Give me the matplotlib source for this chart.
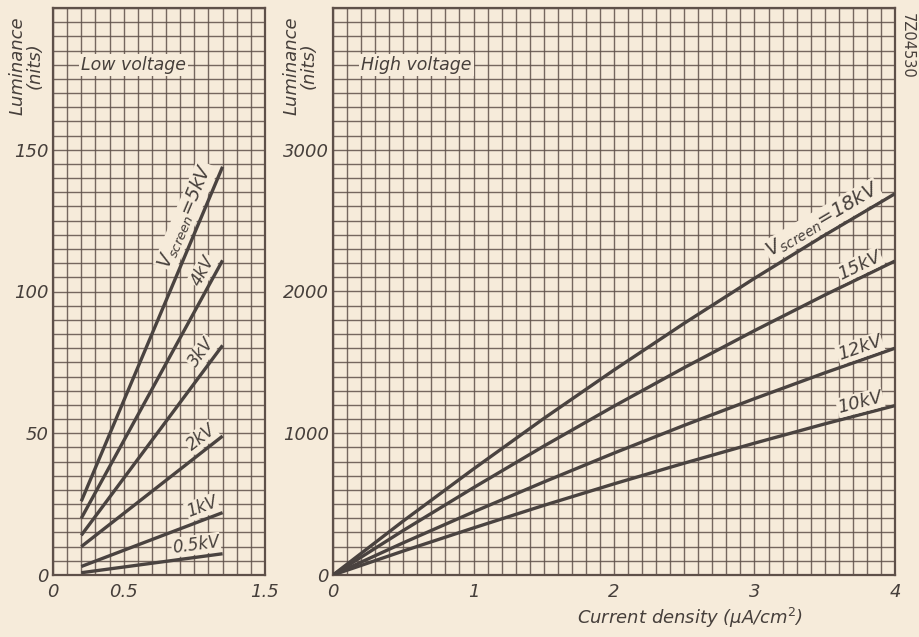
import numpy as np
import matplotlib
matplotlib.use("Agg")
import matplotlib.pyplot as plt
from matplotlib.ticker import MultipleLocator
import matplotlib.transforms as mtrans

# ---------------- data ----------------
# Low voltage panel (current density in uA/cm2, luminance in nits)
low_x = [0.2, 1.2]
low_5kv = [26, 144]
low_4kv = [20, 111]
low_3kv = [14, 81]
low_2kv = [10, 49]
low_1kv = [3, 22]
low_05kv = [0.8, 7.5]
low_series = [low_5kv, low_4kv, low_3kv, low_2kv, low_1kv, low_05kv]
low_labels = ["V$_{\\mathregular{screen}}$=5kV", "4kV", "3kV", "2kV", "1kV", "0.5kV"]

# High voltage panel
high_x = [0, 0.5, 1.0, 1.5, 2.0, 2.5, 3.0, 3.5, 4.0]
high_18kv = [0, 381, 748, 1104, 1446, 1776, 2093, 2398, 2690]
high_15kv = [0, 314, 616, 909, 1191, 1463, 1724, 1975, 2215]
high_12kv = [0, 227, 445, 656, 860, 1056, 1244, 1426, 1600]
high_10kv = [0, 169, 332, 491, 643, 789, 930, 1066, 1195]
high_series = [high_18kv, high_15kv, high_12kv, high_10kv]
high_labels = ["V$_{\\mathregular{screen}}$=18kV", "15kV", "12kV", "10kV"]

low_xticks = [0, 0.5, 1.5]
low_xticklabels = ["0", "0.5", "1.5"]
low_yticks = [0, 50, 100, 150]
high_xticks = [0, 1, 2, 3, 4]
high_yticks = [0, 1000, 2000, 3000]

# ---------------- style ----------------
bg = "#f6ebda"
grid_c = "#5e5049"
line_c = "#4a4340"
text_c = "#463f3b"
FONT = "DejaVu Sans"
plt.rcParams["font.family"] = [FONT]
plt.rcParams["mathtext.fontset"] = "dejavusans"
plt.rcParams["mathtext.default"] = "it"

fig = plt.figure(figsize=(9.2, 6.37), dpi=100, facecolor=bg)
W, H = 920, 637

def px_axes(x0, x1, ytop, ybot):
    return fig.add_axes([x0 / W, 1 - ybot / H, (x1 - x0) / W, (ybot - ytop) / H])

ax1 = px_axes(53, 265, 8, 575)
ax2 = px_axes(333, 895, 8, 575)

def style_axes(ax, xlim, ylim, xstep, ystep, xticks, xticklabels, yticks):
    ax.set_facecolor(bg)
    ax.set_xlim(*xlim)
    ax.set_ylim(*ylim)
    ax.xaxis.set_minor_locator(MultipleLocator(xstep))
    ax.yaxis.set_minor_locator(MultipleLocator(ystep))
    ax.set_xticks(xticks)
    ax.set_xticklabels(xticklabels)
    ax.set_yticks(yticks)
    ax.set_yticklabels([str(t) for t in yticks])
    ax.grid(which="both", color=grid_c, lw=1.0, alpha=0.85)
    ax.set_axisbelow(True)
    ax.tick_params(which="both", length=0, colors=text_c, labelsize=13)
    ax.tick_params(axis="x", pad=6)
    ax.tick_params(axis="y", pad=3)
    for lab in ax.get_xticklabels() + ax.get_yticklabels():
        lab.set_fontstyle("italic")
    for s in ax.spines.values():
        s.set_color(grid_c)
        s.set_linewidth(1.6)

style_axes(ax1, (0, 1.5), (0, 200), 0.1, 5, low_xticks, low_xticklabels, low_yticks)
style_axes(ax2, (0, 4), (0, 4000), 0.1, 100, high_xticks, [str(t) for t in high_xticks], high_yticks)

def label_on_line(ax, xs, ys, xpos, text, size, perp_pts=2.0):
    xs = np.asarray(xs, float); ys = np.asarray(ys, float)
    ypos = np.interp(xpos, xs, ys)
    i = min(max(np.searchsorted(xs, xpos) - 1, 0), len(xs) - 2)
    p0 = ax.transData.transform((xs[i], ys[i]))
    p1 = ax.transData.transform((xs[i + 1], ys[i + 1]))
    ang = np.degrees(np.arctan2(p1[1] - p0[1], p1[0] - p0[0]))
    nx = -np.sin(np.radians(ang)) * perp_pts
    ny = np.cos(np.radians(ang)) * perp_pts
    off = mtrans.offset_copy(ax.transData, fig=fig, x=nx, y=ny, units="points")
    ax.text(xpos, ypos, text, transform=off, rotation=ang, rotation_mode="anchor",
            ha="right", va="bottom", fontsize=size, style="italic", color=text_c,
            bbox=dict(facecolor=bg, edgecolor="none", pad=0.6), zorder=4)

for ys in low_series:
    ax1.plot(low_x, ys, color=line_c, lw=2.4, solid_capstyle="butt", zorder=3)
low_label_x = [1.19, 1.19, 1.19, 1.19, 1.19, 1.19]
low_label_size = [13.5, 12, 12, 12, 12, 12]
for ys, lab, lx, sz in zip(low_series, low_labels, low_label_x, low_label_size):
    label_on_line(ax1, low_x, ys, lx, lab, sz, perp_pts=2.5)

for ys in high_series:
    ax2.plot(high_x, ys, color=line_c, lw=2.4, solid_capstyle="butt", zorder=3)
high_label_x = [3.93, 3.93, 3.93, 3.93]
high_label_size = [14, 13, 13, 13]
for ys, lab, lx, sz in zip(high_series, high_labels, high_label_x, high_label_size):
    label_on_line(ax2, high_x, ys, lx, lab, sz, perp_pts=2.0)

# panel titles
ax1.text(0.2, 180, "Low voltage", fontsize=12.5, style="italic", color=text_c,
         va="center", ha="left", bbox=dict(facecolor=bg, edgecolor="none", pad=1.5), zorder=4)
ax2.text(0.2, 3600, "High voltage", fontsize=12.5, style="italic", color=text_c,
         va="center", ha="left", bbox=dict(facecolor=bg, edgecolor="none", pad=1.5), zorder=4)

# axis titles
fig.text(26 / W, 1 - 66 / H, "Luminance\n(nits)", rotation=90, ha="center", va="center",
         fontsize=13, style="italic", color=text_c, multialignment="center", linespacing=0.95)
fig.text(300 / W, 1 - 66 / H, "Luminance\n(nits)", rotation=90, ha="center", va="center",
         fontsize=13, style="italic", color=text_c, multialignment="center", linespacing=0.95)
fig.text(690 / W, 1 - 618 / H, "Current density ($\\mu$A/cm$^{2}$)", ha="center", va="center",
         fontsize=13, style="italic", color=text_c)
fig.text(907 / W, 1 - 46 / H, "7Z04530", rotation=-90, ha="center", va="center",
         fontsize=10.5, color=text_c)

fig.savefig("out.png", dpi=100, facecolor=bg)
